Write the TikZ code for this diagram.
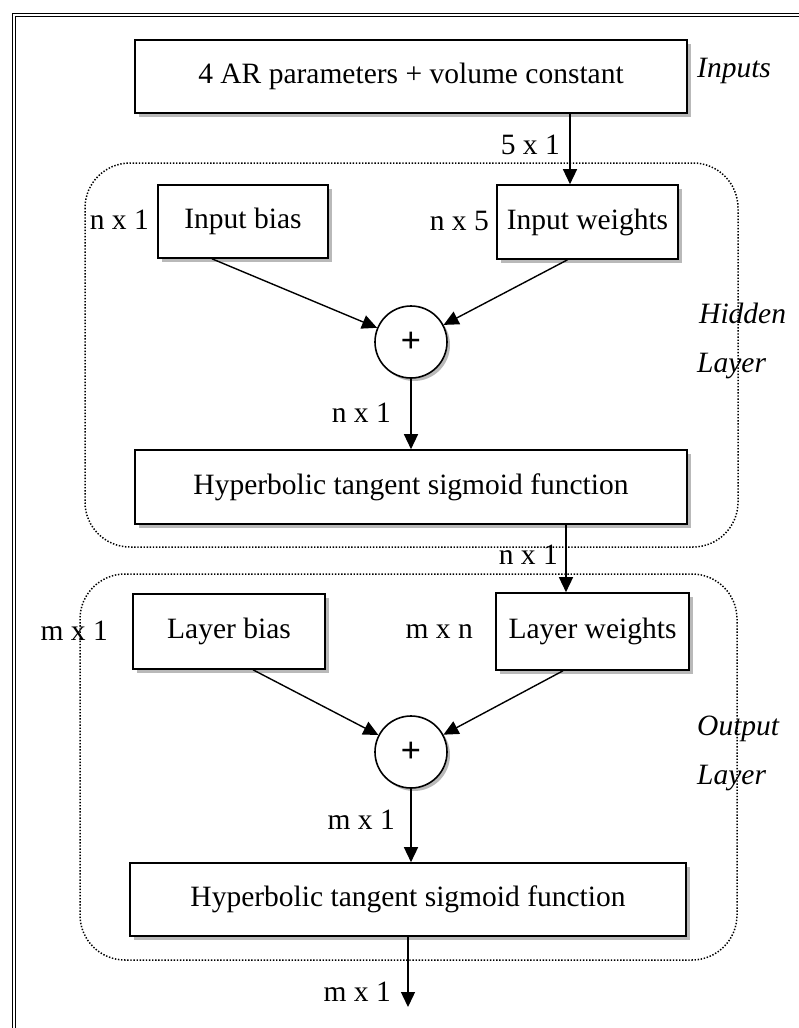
\documentclass[tikz,border=0pt]{standalone}
\usepackage{fontspec}
\setmainfont{Liberation Serif}
\usetikzlibrary{arrows.meta,shadows,calc}

\begin{document}
\begin{tikzpicture}[x=1pt,y=-1pt,
  every node/.style={font=\fontsize{29.5}{34}\selectfont, inner sep=0pt},
  blk/.style={draw, line width=1.6pt, fill=white,
    general shadow={fill=gray!55, shadow xshift=3.5pt, shadow yshift=-3.5pt}},
  sum/.style={circle, draw, line width=1.6pt, fill=white, minimum size=72pt,
    font=\fontsize{36}{38}\selectfont\bfseries,
    general shadow={fill=gray!55, shadow xshift=3pt, shadow yshift=-3pt}},
  arr/.style={line width=1.4pt, -{Triangle[length=15pt,width=14pt]}},
  grp/.style={line width=1.5pt, dash pattern=on 1.4pt off 1.7pt, rounded corners=45pt},
  side/.style={font=\fontsize{29.5}{34}\selectfont\itshape, anchor=base west}
]
\useasboundingbox (0,0) rectangle (799,1028);

% outer double frame (top and left)
\draw[line width=1.1pt, double distance=2.4pt] (14,1030) -- (14,15) -- (801,15);

% layer groups
\draw[grp] (85,163) rectangle (738,547);
\draw[grp] (80,574) rectangle (737,960);

% blocks
\node[blk, minimum width=552pt, minimum height=73pt] (inp) at (411,76.5) {4 AR parameters + volume constant};
\node[blk, minimum width=170pt, minimum height=73pt] (ib) at (243,221.5) {Input bias};
\node[blk, minimum width=181pt, minimum height=74pt] (iw) at (587.5,222) {Input weights};
\node[sum] (s1) at (411,342) {+};
\node[blk, minimum width=552pt, minimum height=74pt] (h1) at (411,487) {Hyperbolic tangent sigmoid function};
\node[blk, minimum width=192pt, minimum height=75pt] (lb) at (229,631.5) {Layer bias};
\node[blk, minimum width=193pt, minimum height=77pt] (lw) at (592.5,631.5) {Layer weights};
\node[sum] (s2) at (411,752) {+};
\node[blk, minimum width=556pt, minimum height=73pt] (h2) at (408,899.5) {Hyperbolic tangent sigmoid function};

% side titles
\node[side] (tin) at (697,77) {Inputs};
\node[side] (thid) at (699,323) {Hidden};
\node[side] (thl) at (697,372) {Layer};
\node[side] (tout) at (697,735) {Output};
\node[side] (tol) at (697,784) {Layer};

% dimension labels
\node[anchor=east] (d51) at (560,145) {5 x 1};
\node[anchor=east] (dnb) at (149,220) {n x 1};
\node[anchor=east] (dn5) at (489,221) {n x 5};
\node[anchor=east] (dn1a) at (391,413) {n x 1};
\node[anchor=east] (dn1b) at (558,555) {n x 1};
\node[anchor=east] (dmb) at (108,631) {m x 1};
\node[anchor=east] (dmn) at (473,632) {m x n};
\node[anchor=east] (dm1a) at (395,820) {m x 1};
\node[anchor=east] (dm1b) at (391,992) {m x 1};

% connectors
\coordinate (xa) at (570,0);
\coordinate (xb) at (566,0);
\coordinate (out) at (408,1007);
\draw[arr] (inp.south -| xa) -- (iw.north -| xa);
\draw[arr] ($(ib.south)+(-31,0)$) -- (s1);
\draw[arr] ($(iw.south)+(-20,0)$) -- (s1);
\draw[arr] (s1.south) -- (h1.north);
\draw[arr] (h1.south -| xb) -- (lw.north -| xb);
\draw[arr] ($(lb.south)+(24,0)$) -- (s2);
\draw[arr] ($(lw.south)+(-29.5,0)$) -- (s2);
\draw[arr] (s2.south) -- (s2.south |- h2.north);
\draw[arr] (h2.south) -- (out);
\end{tikzpicture}
\end{document}
